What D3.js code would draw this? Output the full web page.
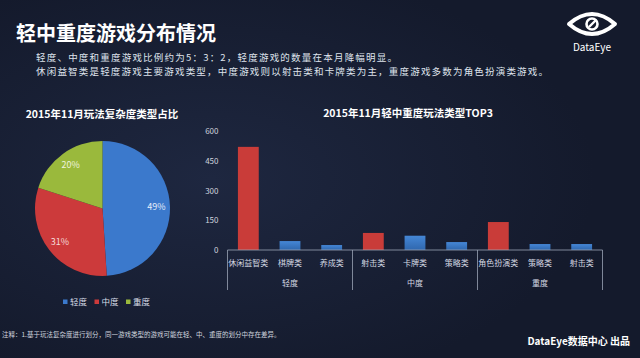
<!DOCTYPE html>
<html><head><meta charset="utf-8">
<script src="https://cdn.jsdelivr.net/npm/d3@7"></script>
<style>html,body{margin:0;padding:0;background:#151b2e;}svg{display:block;}</style>
</head><body>
<svg id="c" width="640" height="358"></svg>
<script>
// ---- data ----
const pageTitle = "轻中重度游戏分布情况";
const subtitleLines = ["轻度、中度和重度游戏比例约为5：3：2，轻度游戏的数量在本月降幅明显。",
  "休闲益智类是轻度游戏主要游戏类型，中度游戏则以射击类和卡牌类为主，重度游戏多数为角色扮演类游戏。"];
const pieTitle = "2015年11月玩法复杂度类型占比";
const pieLabels = ["轻度", "中度", "重度"];
const pieValues = [49, 31, 20];
const barTitle = "2015年11月轻中重度玩法类型TOP3";
const barGroups = ["轻度", "中度", "重度"];
const barCategories = ["休闲益智类", "棋牌类", "养成类", "射击类", "卡牌类", "策略类", "角色扮演类", "策略类", "射击类"];
const barGroupOf = ["轻度", "轻度", "轻度", "中度", "中度", "中度", "重度", "重度", "重度"];
const barValues = [520, 45, 25, 86, 72, 40, 141, 30, 30];
const yTicks = [0, 150, 300, 450, 600];
const footnote = "注释：1.基于玩法复杂度进行划分，同一游戏类型的游戏可能在轻、中、重度的划分中存在差异。";
const credit = "DataEye数据中心 出品";

// ---- drawing ----
const FONT = "'Noto Sans CJK SC','Noto Sans',sans-serif";
const svg = d3.select("#c").style("font-family", FONT);
const defs = svg.append("defs");
const bg = defs.append("radialGradient").attr("id", "bg").attr("cx", "0.33").attr("cy", "0.5").attr("r", "0.6");
bg.append("stop").attr("offset", "0").attr("stop-color", "#1e2740");
bg.append("stop").attr("offset", "1").attr("stop-color", "#141a2c");
const bl = defs.append("linearGradient").attr("id", "blueBar").attr("x1", 0).attr("y1", 0).attr("x2", 0).attr("y2", 1);
bl.append("stop").attr("offset", "0").attr("stop-color", "#4587d6");
bl.append("stop").attr("offset", "1").attr("stop-color", "#2f67ae");
svg.append("rect").attr("width", 640).attr("height", 358).attr("fill", "url(#bg)");

// header
svg.append("text").attr("x", 16).attr("y", 41).attr("fill", "#ffffff")
  .attr("font-size", 20).attr("font-weight", "bold").text(pageTitle);
svg.selectAll("text.sub").data(subtitleLines).join("text").attr("class", "sub")
  .attr("x", 36).attr("y", (d, i) => 61 + i * 14).attr("fill", "#dfe3ec")
  .attr("font-size", 9.5).attr("textLength", (d, i) => i === 1 ? 512 : 361).text(d => d);

// logo
const lg = svg.append("g");
lg.append("path").attr("d", "M569,24 Q592,4 615,24 Q592,44 569,24 Z")
  .attr("fill", "none").attr("stroke", "#fff").attr("stroke-width", 4).attr("stroke-linejoin", "round");
lg.append("circle").attr("cx", 592).attr("cy", 24).attr("r", 5.5).attr("fill", "none").attr("stroke", "#fff").attr("stroke-width", 2.6);
lg.append("path").attr("d", "M589,27 L596,20").attr("stroke", "#fff").attr("stroke-width", 2.4);
lg.append("text").attr("x", 592).attr("y", 51).attr("text-anchor", "middle").attr("fill", "#fff")
  .attr("font-size", 10).text("DataEye");

// ---- pie ----
const pieColors = ["#3b79cc", "#cc3a3b", "#9ab93c"];
const pcx = 102.5, pcy = 208.5, R = 67.5;
svg.append("text").attr("x", 102).attr("y", 118).attr("text-anchor", "middle").attr("fill", "#fff")
  .attr("font-size", 10.5).attr("font-weight", "bold").text(pieTitle);
const pieGen = d3.pie().sort(null).value(d => d);
const arcs = pieGen(pieValues);
const arcGen = d3.arc().innerRadius(0).outerRadius(R);
const labelArc = d3.arc().innerRadius(54).outerRadius(54);
const pg = svg.append("g").attr("transform", `translate(${pcx},${pcy})`);
pg.selectAll("path").data(arcs).join("path").attr("d", arcGen).attr("fill", (d, i) => pieColors[i]);
pg.selectAll("text").data(arcs).join("text")
  .attr("transform", d => `translate(${labelArc.centroid(d)})`)
  .attr("text-anchor", "middle").attr("dy", "0.35em").attr("font-size", 9)
  .attr("fill", (d, i) => ["#e6eefa", "#f4dada", "#eef3dc"][i])
  .text(d => d.data + "%");
const legX = d3.scalePoint().domain(pieLabels).range([63, 126]);
const leg = svg.selectAll("g.leg").data(pieLabels).join("g").attr("class", "leg")
  .attr("transform", d => `translate(${legX(d)},302)`);
leg.append("rect").attr("x", 0).attr("y", -2.5).attr("width", 4.5).attr("height", 4.5).attr("fill", (d, i) => pieColors[i]);
leg.append("text").attr("x", 7).attr("dy", "0.35em").attr("font-size", 8.5).attr("fill", "#d6dbe6").text(d => d);

// ---- bar chart ----
const x0 = 227.5, x1 = 602.5, yBase = 250, yTop = 131;
svg.append("text").attr("x", 408).attr("y", 117).attr("text-anchor", "middle").attr("fill", "#fff")
  .attr("font-size", 10.5).attr("font-weight", "bold").text(barTitle);
const x = d3.scaleBand().domain(d3.range(barCategories.length)).range([x0, x1]).padding(0);
const y = d3.scaleLinear().domain([0, 600]).range([yBase, yTop]);
const bw = x.bandwidth() * 0.5;
const firstInGroup = barGroupOf.map((g, i) => i === 0 || barGroupOf[i - 1] !== g);
svg.selectAll("rect.bar").data(barValues).join("rect").attr("class", "bar")
  .attr("x", (d, i) => x(i) + (x.bandwidth() - bw) / 2)
  .attr("y", d => y(d)).attr("width", bw).attr("height", d => yBase - y(d))
  .attr("fill", (d, i) => firstInGroup[i] ? "#c93c39" : "url(#blueBar)");

const yAxis = svg.append("g").attr("transform", `translate(${x0},0)`)
  .call(d3.axisLeft(y).tickValues(yTicks).tickSize(0).tickPadding(9));
yAxis.select(".domain").remove();
yAxis.selectAll("text").attr("fill", "#cfd4de").attr("font-size", 8).attr("font-family", FONT);

const axisColor = "#9aa3b5";
svg.append("line").attr("x1", x0).attr("x2", x1).attr("y1", yBase).attr("y2", yBase)
  .attr("stroke", axisColor).attr("stroke-width", 0.8);
svg.selectAll("text.cat").data(barCategories).join("text").attr("class", "cat")
  .attr("x", (d, i) => x(i) + x.bandwidth() / 2).attr("y", 266).attr("text-anchor", "middle")
  .attr("font-size", 8).attr("fill", "#d3d8e2").text(d => d);
const groupStart = barGroups.map(g => barGroupOf.indexOf(g));
const groupEnd = barGroups.map(g => barGroupOf.lastIndexOf(g));
const dividers = [x0].concat(groupEnd.map(e => x(e) + x.bandwidth()));
svg.selectAll("line.div").data(dividers).join("line").attr("class", "div")
  .attr("x1", d => d).attr("x2", d => d).attr("y1", yBase).attr("y2", 290)
  .attr("stroke", axisColor).attr("stroke-width", 0.8);
svg.selectAll("text.grp").data(barGroups).join("text").attr("class", "grp")
  .attr("x", (d, i) => (x(groupStart[i]) + x(groupEnd[i]) + x.bandwidth()) / 2).attr("y", 286)
  .attr("text-anchor", "middle").attr("font-size", 8).attr("fill", "#d3d8e2").text(d => d);

// footer
svg.append("text").attr("x", 2).attr("y", 336.5).attr("font-size", 6.5).attr("fill", "#d0d5df").text(footnote);
svg.append("text").attr("x", 630).attr("y", 344.5).attr("text-anchor", "end").attr("font-size", 10)
  .attr("font-weight", "bold").attr("fill", "#fff").text(credit);
</script>
</body></html>
